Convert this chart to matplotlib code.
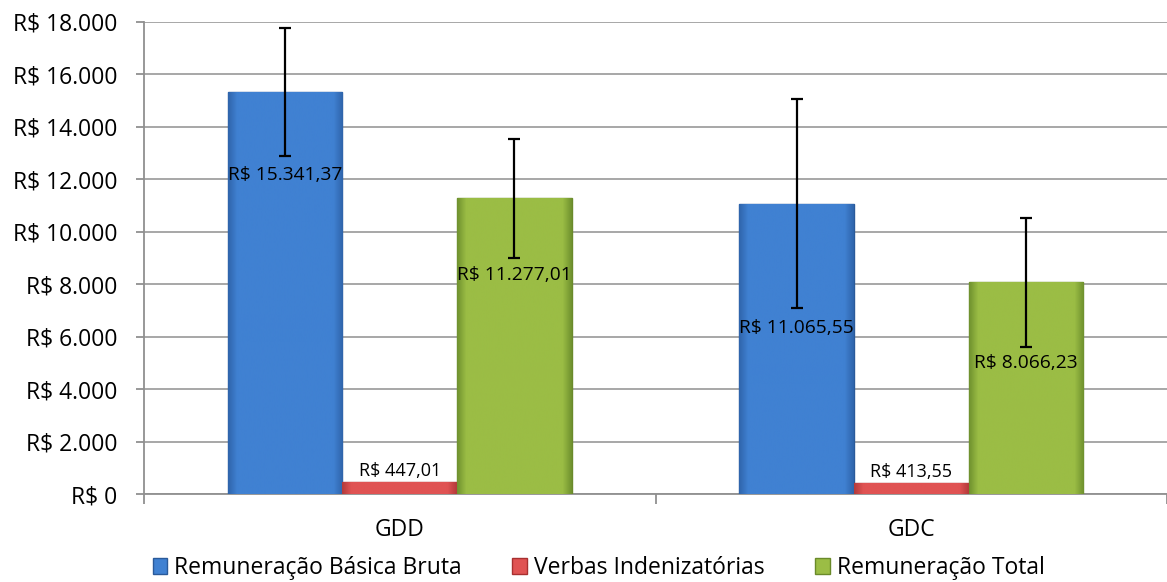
import matplotlib
matplotlib.use("Agg")
import matplotlib.pyplot as plt
import numpy as np
from matplotlib.patches import Patch
from matplotlib.colors import LinearSegmentedColormap

categories = ["GDD", "GDC"]
series_names = ["Remuneração Básica Bruta", "Verbas Indenizatórias", "Remuneração Total"]
basica = [15341.37, 11065.55]
verbas = [447.01, 413.55]
total = [11277.01, 8066.23]
err_basica = [2447, 3990]
err_total = [2280, 2450]
label_basica = ["R$ 15.341,37", "R$ 11.065,55"]
label_verbas = ["R$ 447,01", "R$ 413,55"]
label_total = ["R$ 11.277,01", "R$ 8.066,23"]
label_y_basica = [12170, 6330]
label_y_total = [8350, 5000]
yticks = list(range(0, 18001, 2000))
ytick_labels = ["R$ 0", "R$ 2.000", "R$ 4.000", "R$ 6.000", "R$ 8.000", "R$ 10.000",
                "R$ 12.000", "R$ 14.000", "R$ 16.000", "R$ 18.000"]

plt.rcParams['font.family'] = ['Open Sans', 'DejaVu Sans']

fig = plt.figure(figsize=(11.67, 5.82), dpi=100)
ax = fig.add_axes([0.1234, 0.1512, 0.8766, 0.8110])

colors = ["#4081d2", "#e05353", "#9bbd45"]
dark = ["#2f64ab", "#b33a3a", "#6f912e"]
edges = ["#2a5a9a", "#a83030", "#6a8a2a"]
w = 0.224
x = np.arange(len(categories))
offs = [-w, 0, w]
vals = [basica, verbas, total]
for i in range(3):
    bars = ax.bar(x + offs[i], vals[i], width=w, color=colors[i], edgecolor=edges[i],
                  linewidth=1.0, zorder=3)
    cmap = LinearSegmentedColormap.from_list(
        "g%d" % i, [(0.0, dark[i]), (0.08, colors[i]), (0.92, colors[i]), (1.0, dark[i])])
    grad = np.linspace(0, 1, 256).reshape(1, -1)
    for b in bars:
        bx, by = b.get_x(), b.get_y()
        bw, bh = b.get_width(), b.get_height()
        im = ax.imshow(grad, cmap=cmap, aspect='auto', extent=[bx, bx + bw, by, by + bh],
                       zorder=3.5, interpolation='bicubic')
        im.set_clip_path(b)

ax.errorbar(x + offs[0], basica, yerr=err_basica, fmt='none', ecolor='black',
            elinewidth=1.6, capsize=4.5, capthick=1.6, zorder=5)
ax.errorbar(x + offs[2], total, yerr=err_total, fmt='none', ecolor='black',
            elinewidth=1.6, capsize=4.5, capthick=1.6, zorder=5)

for j in range(len(categories)):
    ax.text(x[j] + offs[0], label_y_basica[j], label_basica[j], ha='center', va='center',
            fontsize=13.8, color='black', zorder=6)
    ax.text(x[j] + offs[2], label_y_total[j], label_total[j], ha='center', va='center',
            fontsize=13.8, color='black', zorder=6)
    ax.text(x[j] + offs[1], verbas[j] + 100, label_verbas[j], ha='center', va='bottom',
            fontsize=13, color='black', zorder=6)

ax.set_xlim(-0.5, 1.5)
ax.set_ylim(0, 18000)
ax.set_yticks(yticks)
ax.set_yticklabels(ytick_labels, fontsize=16.5)
ax.yaxis.grid(True, color='#a0a0a0', linewidth=1.3, zorder=0)
ax.set_axisbelow(True)

ax.set_xticks(x)
ax.set_xticklabels(categories, fontsize=16.5)
ax.tick_params(axis='x', length=0, pad=17)
ax.set_xticks([-0.5, 0.5, 1.5], minor=True)
ax.tick_params(axis='x', which='minor', length=7, color='#909090', width=1.3)
ax.tick_params(axis='y', length=6, color='#909090', width=1.3, pad=13)

for s in ['top', 'right']:
    ax.spines[s].set_visible(False)
ax.spines['left'].set_color('#909090')
ax.spines['bottom'].set_color('#909090')
ax.spines['left'].set_linewidth(1.3)
ax.spines['bottom'].set_linewidth(1.3)

handles = [Patch(facecolor=colors[i], edgecolor=edges[i], label=series_names[i]) for i in range(3)]
fig.legend(handles=handles, loc='center', bbox_to_anchor=(0.513, 0.024), ncol=3,
           frameon=False, fontsize=16.5, handlelength=0.65, handleheight=0.65,
           handletextpad=0.3, columnspacing=2.2, borderpad=0)

fig.savefig("out.png", dpi=100)
